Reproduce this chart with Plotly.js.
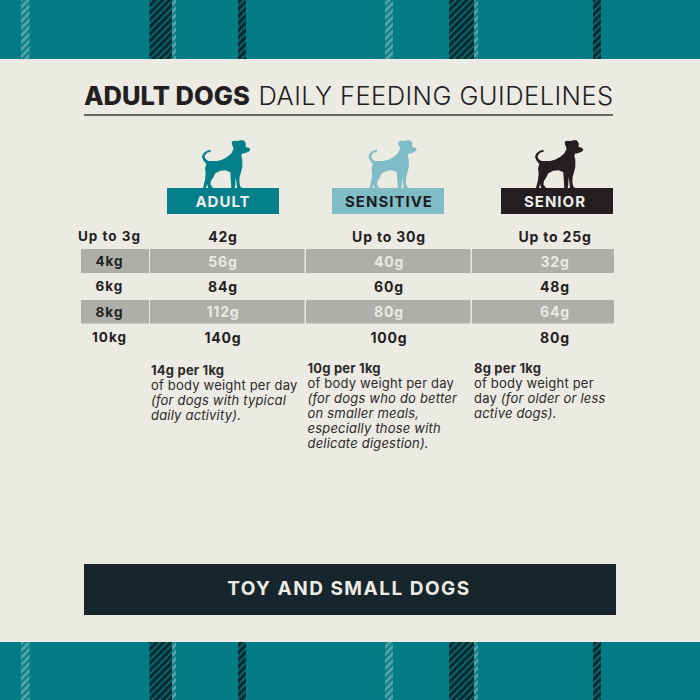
<!DOCTYPE html>
<html>
<head>
<meta charset="utf-8">
<script src="https://cdn.plot.ly/plotly-3.0.1.min.js"></script>
<style>
html, body { margin: 0; padding: 0; background: #047c86; }
#chart { width: 700px; height: 700px; }
</style>
</head>
<body>
<div id="chart"></div>
<script>
/* ── Feeding guideline table ── */

const ROW_LABELS = ['Up to 3g', '4kg', '6kg', '8kg', '10kg'];
const ADULT = ['42g', '56g', '84g', '112g', '140g'];
const SENSITIVE = ['Up to 30g', '40g', '60g', '80g', '100g'];
const SENIOR = ['Up to 25g', '32g', '48g', '64g', '80g'];
const LEVELS = ['ADULT', 'SENSITIVE', 'SENIOR'];

const NOTE_ADULT = ['<b>14g per 1kg</b>', 'of body weight per day', '<i>(for dogs with typical</i>', '<i>daily activity).</i>'];
const NOTE_SENSITIVE = ['<b>10g per 1kg</b>', 'of body weight per day', '<i>(for dogs who do better</i>', '<i>on smaller meals,</i>', '<i>especially those with</i>', '<i>delicate digestion).</i>'];
const NOTE_SENIOR = ['<b>8g per 1kg</b>', 'of body weight per', 'day <i>(for older or less</i>', '<i>active dogs).</i>'];

// page layout, in picture pixels
const ROW_Y = [238, 263, 288, 313.5, 339];
const COL_X = [109.5, 223, 389, 555];
const BAND_ROWS = [[249, 273], [300, 323.5]];
const BAND_COLS = [[81, 149], [150, 304.5], [306, 470.5], [472, 614]];
const HEAD_COLS = [[167, 279], [332, 444], [501, 613]];
const HEAD_COLORS = ['#05808a', '#7fbcc6', '#231f20'];
const HEAD_TEXT = ['#eeeee8', '#1d1d1f', '#eeeee8'];
const NOTE_X = [151, 307.5, 474];
const NOTE_Y = [371.5, 369.5, 369.5];
const NOTE_STEP = 15.1;

const DARK_STRIPES = [[149.5, 172], [238, 246], [449, 474], [593, 601]];
const LIGHT_STRIPES = [[21, 29.5], [172, 176], [385, 393], [474, 478]];
const BANDS_Y = [[0, 59], [642, 700]];

const FONT = 'Inter, "Open Sans", sans-serif';
const INK = '#231f20';
const TEAL = '#047c86';
const PANEL = '#ebeae3';

// dog outline, traced at 3x from the icon
const DOG = [
  [40,44],[41,50],[30,53],[23,62],[24,70],[30,76],[36,78],[60,78],[75,74],[90,66],[102,56],[110,42],
  [105,28],[104,20],[112,17],[122,18],[130,16],[140,16],[146,24],[146,36],[156,38],[160,44],[155,50],[145,54],[135,56],
  [133,62],[136,75],[136,95],[132,112],[128,125],[127,140],[130,155],[136,159],[120,159],[118,140],[115.5,125],
  [115,150],[113,159],[103,159],[101,130],[100,112],[85,106],[70,107],[55,115],[50,125],[42,138],[40,148],[48,159],
  [34,159],[30,148],[27,159],[18,159],[24,135],[26,115],[24,100],[28,88],[19,76],[15,66],[18,56],[28,48]
];
const DOG_ORIGIN = [197, 135];
const DOG_SHIFT = [0, 166.5, 333];

function dogPath(dx) {
    return 'M' + DOG.map(p => `${DOG_ORIGIN[0] + p[0] / 3 + dx},${DOG_ORIGIN[1] + p[1] / 3}`).join('L') + 'Z';
}

function blockTrace(cols, rows, color, extra) {
    // one bar per col/row pair, floated with base on the page axis
    const x = [], y = [], base = [], width = [];
    rows.forEach(r => cols.forEach(c => {
        x.push((c[0] + c[1]) / 2);
        width.push(c[1] - c[0]);
        base.push(r[0]);
        y.push(r[1] - r[0]);
    }));
    return { type: 'bar', x, y, base, width, marker: { color, line: { width: 0 }, ...extra }, hoverinfo: 'skip', showlegend: false };
}

function textTrace(x, y, text, size, color, position, weight, spacing) {
    return {
        type: 'scatter', mode: 'text', x, y, text,
        textposition: position || 'middle center',
        textfont: { family: FONT, size, color, weight: weight || 400 },
        hoverinfo: 'skip', showlegend: false,
        meta: { spacing: spacing || 0 },
    };
}

const traces = [];

// tartan stripes, top and bottom
traces.push(blockTrace(DARK_STRIPES, BANDS_Y, TEAL, {
    pattern: { shape: '/', fgcolor: '#0c2b31', bgcolor: TEAL, size: 5, solidity: 0.72 },
}));
traces.push(blockTrace(LIGHT_STRIPES, BANDS_Y, TEAL, {
    pattern: { shape: '/', fgcolor: '#55a3a6', bgcolor: TEAL, size: 5, solidity: 0.6 },
}));

// grey table rows, level headers, footer bar
traces.push(blockTrace(BAND_COLS, BAND_ROWS, '#aeafaa'));
HEAD_COLS.forEach((c, i) => traces.push(blockTrace([c], [[188, 214]], HEAD_COLORS[i])));
traces.push(blockTrace([[84, 616]], [[564, 615]], '#17262d'));

// title
traces.push(textTrace([84], [99], ['ADULT DOGS'], 25.5, INK, 'middle right', 800, 0));
traces.push(textTrace([258.5], [99], ['DAILY FEEDING GUIDELINES'], 25.5, INK, 'middle right', 300, 0.45));

// header labels
traces.push(textTrace(COL_X.slice(1), HEAD_COLS.map(() => 203.5), LEVELS, 15, HEAD_TEXT, 'middle center', 700, 1));

// table text, light on grey rows
const rowColors = ROW_LABELS.map((_, i) => (i % 2 ? '#eaeae4' : INK));
traces.push(textTrace(ROW_LABELS.map(() => COL_X[0]), ROW_Y, ROW_LABELS, 13.5, INK, 'middle center', 700, 1));
[ADULT, SENSITIVE, SENIOR].forEach((col, i) => {
    traces.push(textTrace(col.map(() => COL_X[i + 1]), ROW_Y, col, 14, rowColors, 'middle center', 700, 0.8));
});

// notes under each column
[NOTE_ADULT, NOTE_SENSITIVE, NOTE_SENIOR].forEach((note, i) => {
    traces.push(textTrace(note.map(() => NOTE_X[i]), note.map((_, k) => NOTE_Y[i] + k * NOTE_STEP), note, 13, '#2c2a2a', 'middle right', 400, 0.2));
});

traces.push(textTrace([349], [590.5], ['TOY AND SMALL DOGS'], 19, '#ecebe4', 'middle center', 700, 1.5));

const shapes = [
    { type: 'rect', xref: 'x', yref: 'y', x0: 0, x1: 700, y0: 59, y1: 642, fillcolor: PANEL, line: { width: 0 }, layer: 'below' },
    { type: 'line', xref: 'x', yref: 'y', x0: 84, x1: 613, y0: 115, y1: 115, line: { color: '#3b3a36', width: 1.6 } },
];
DOG_SHIFT.forEach((dx, i) => {
    shapes.push({ type: 'path', xref: 'x', yref: 'y', path: dogPath(dx), fillcolor: HEAD_COLORS[i], line: { width: 0 } });
});

const layout = {
    width: 700, height: 700,
    margin: { t: 0, b: 0, l: 0, r: 0 },
    paper_bgcolor: TEAL,
    plot_bgcolor: TEAL,
    barmode: 'overlay',
    showlegend: false,
    xaxis: { range: [0, 700], visible: false, fixedrange: true },
    yaxis: { range: [700, 0], visible: false, fixedrange: true },
    shapes,
};

Plotly.newPlot('chart', traces, layout, { staticPlot: true, displayModeBar: false }).then(gd => {
    // no letter spacing option in textfont, the reference face runs wider than Inter
    const spaced = traces.filter(t => t.type === 'scatter');
    gd.querySelectorAll('.scatterlayer .trace').forEach((g, i) => {
        g.querySelectorAll('text').forEach(t => {
            t.style.letterSpacing = spaced[i].meta.spacing + 'px';
        });
    });
});
</script>
</body>
</html>
